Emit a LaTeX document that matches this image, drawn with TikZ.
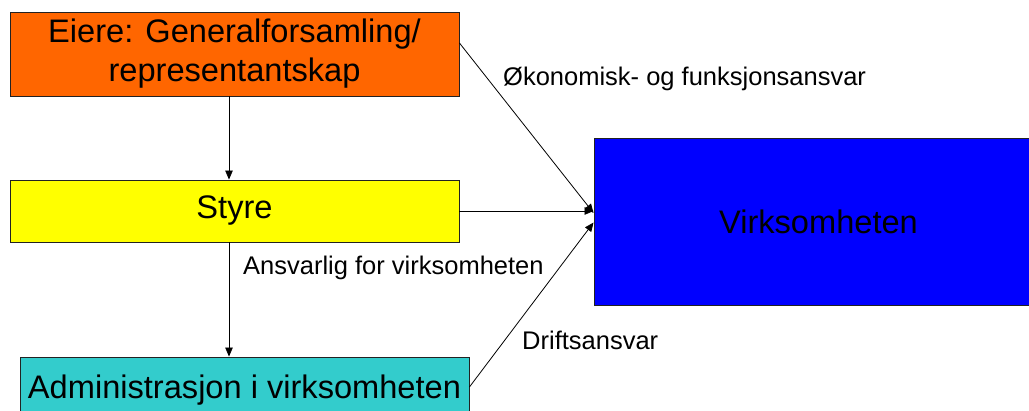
\documentclass[tikz,border=0pt]{standalone}
\usepackage{fontspec}
\setmainfont{Liberation Sans}
\usetikzlibrary{arrows.meta}
\definecolor{cOrange}{HTML}{FF6600}
\definecolor{cYellow}{HTML}{FFFF00}
\definecolor{cCyan}{HTML}{33CCCC}
\definecolor{cBlue}{HTML}{0000FF}
\definecolor{cEdge}{HTML}{222222}
\tikzset{
  boxnode/.style={draw=cEdge, line width=0.9pt, rectangle, inner sep=0pt,
    minimum width=449pt, align=center, font=\fontsize{32.6}{39}\selectfont},
  lbl/.style={anchor=west, inner sep=0pt, font=\fontsize{25.5}{30}\selectfont},
  conn/.style={line width=0.8pt, -{Triangle[length=9pt,width=7.5pt]}}
}
\begin{document}
\begin{tikzpicture}[x=1pt,y=-1pt]
\clip (0,0) rectangle (1029,411);
\fill[white] (0,0) rectangle (1029,411);
\node[boxnode, fill=cOrange, minimum height=84pt] (b1) at (234.5,54) {Eiere: Generalforsamling/\\representantskap};
\node[boxnode, fill=cYellow, minimum height=62pt] (b2) at (234.5,211) {Styre};
\node[boxnode, fill=cCyan, minimum height=66pt] (b3) at (244.5,390) {Administrasjon i virksomheten};
\node[boxnode, fill=cBlue, minimum height=167pt] (b4) at (818.5,222) {Virksomheten};
\coordinate (s1) at ([yshift=11pt]b1.east);
\coordinate (e1) at ([yshift=9pt]b4.west);
\coordinate (s3) at ([yshift=3pt]b3.east);
\coordinate (e3) at ([yshift=-0.5pt]b4.west);
\draw[conn] ([xshift=-5.5pt]b1.south) -- ([xshift=-5.5pt]b2.north);
\draw[conn] ([xshift=-5.5pt]b2.south) -- ([xshift=-15.5pt]b3.north);
\draw[conn] (s1) -- (e1);
\draw[conn] (b2.east) -- (b2.east -| b4.west);
\draw[conn] (s3) -- (e3);
\node[lbl] (l1) at (503,79) {Økonomisk- og funksjonsansvar};
\node[lbl] (l2) at (243,268) {Ansvarlig for virksomheten};
\node[lbl] (l3) at (522,340) {Driftsansvar};
\end{tikzpicture}
\end{document}
